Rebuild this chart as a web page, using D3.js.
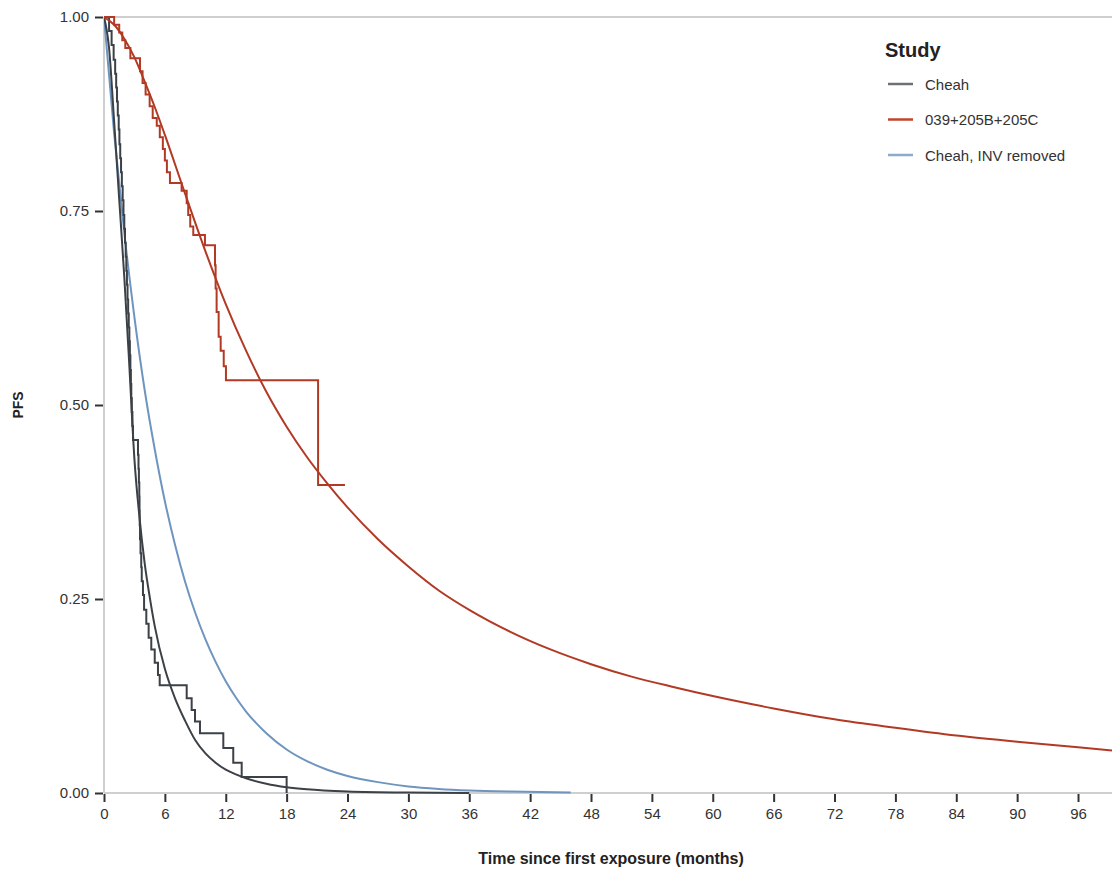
<!DOCTYPE html>
<html>
<head>
<meta charset="utf-8">
<script src="https://cdn.jsdelivr.net/npm/d3@7"></script>
<style>
  body { margin: 0; background: #fff; }
  svg { display: block; font-family: "Liberation Sans", Arial, sans-serif; }
</style>
</head>
<body>
<svg id="chart" width="1112" height="870"></svg>
<script>
// ---------- data ----------
const xTicks = [0, 6, 12, 18, 24, 30, 36, 42, 48, 54, 60, 66, 72, 78, 84, 90, 96];
const yTicks = [0, 0.25, 0.5, 0.75, 1];
const seriesNames = ["Cheah", "039+205B+205C", "Cheah, INV removed"];

// fitted (smooth) curves: time (months) and PFS
const redFitTime = [0, 1, 2, 3, 4, 5, 6, 8, 10, 12, 14, 16, 18, 20, 22, 24, 27, 30, 33, 36, 40, 44, 48, 52, 56, 60, 66, 72, 78, 84, 90, 96, 100];
const redFitPFS  = [1, 0.99, 0.972, 0.948, 0.917, 0.884, 0.848, 0.772, 0.698, 0.63, 0.57, 0.517, 0.472, 0.433, 0.399, 0.368, 0.327, 0.292, 0.261, 0.236, 0.208, 0.185, 0.166, 0.15, 0.137, 0.125, 0.109, 0.095, 0.084, 0.074, 0.066, 0.059, 0.054];

const blackFitTime = [0, 0.5, 1, 1.5, 2, 2.5, 3, 3.5, 4, 4.5, 5, 6, 7, 8, 9, 10, 11, 12, 13, 14, 16, 18, 20, 24, 30, 36];
const blackFitPFS  = [1, 0.96, 0.865, 0.765, 0.665, 0.55, 0.43, 0.355, 0.297, 0.253, 0.215, 0.16, 0.122, 0.093, 0.068, 0.051, 0.039, 0.03, 0.024, 0.019, 0.012, 0.0075, 0.0047, 0.0019, 0.0005, 0.0001];

const blueFitTime = [0, 1, 2, 3, 4, 5, 6, 7, 8, 9, 10, 11, 12, 13, 14, 15, 16, 18, 20, 22, 24, 27, 30, 33, 36, 40, 46];
const blueFitPFS  = [1, 0.85, 0.722, 0.613, 0.52, 0.443, 0.376, 0.32, 0.272, 0.232, 0.198, 0.169, 0.144, 0.123, 0.105, 0.09, 0.077, 0.056, 0.041, 0.03, 0.022, 0.014, 0.0085, 0.0053, 0.0033, 0.0018, 0.0007];

// Kaplan-Meier step curves
const redKMTime = [0, 1.0, 1.5, 1.8, 2.1, 2.6, 3.55, 3.8, 4.1, 4.5, 4.8, 5.2, 5.5, 5.8, 6.0, 6.2, 6.5, 7.65, 8.15, 8.3, 8.5, 8.8, 9.95, 10.94, 11.0, 11.1, 11.3, 11.5, 11.8, 12.02, 21.1, 23.75];
const redKMPFS  = [1, 0.99, 0.98, 0.97, 0.96, 0.947, 0.93, 0.915, 0.9, 0.885, 0.87, 0.86, 0.845, 0.83, 0.815, 0.8, 0.786, 0.776, 0.76, 0.745, 0.73, 0.719, 0.706, 0.68, 0.65, 0.62, 0.588, 0.57, 0.55, 0.532, 0.397, 0.397];

const blackKMTime = [0, 0.5, 0.75, 0.95, 1.1, 1.2, 1.28, 1.36, 1.45, 1.52, 1.6, 1.68, 1.76, 1.84, 1.92, 2.0, 2.07, 2.14, 2.2, 2.26, 2.32, 2.38, 2.44, 2.5, 2.55, 2.6, 2.65, 2.69, 2.74, 2.8, 2.86, 3.35, 3.4, 3.44, 3.48, 3.5, 3.52, 3.55, 3.6, 3.67, 3.72, 3.84, 3.95, 4.17, 4.4, 4.66, 5.0, 5.32, 5.49, 8.15, 8.64, 8.97, 9.46, 11.76, 12.74, 13.57, 18.0];
const blackKMPFS  = [1, 0.982, 0.964, 0.945, 0.927, 0.909, 0.891, 0.873, 0.855, 0.836, 0.818, 0.8, 0.782, 0.764, 0.745, 0.727, 0.709, 0.691, 0.673, 0.655, 0.636, 0.618, 0.6, 0.582, 0.564, 0.545, 0.527, 0.509, 0.491, 0.473, 0.455, 0.436, 0.418, 0.4, 0.382, 0.364, 0.345, 0.327, 0.309, 0.291, 0.273, 0.255, 0.236, 0.218, 0.2, 0.185, 0.168, 0.152, 0.139, 0.122, 0.107, 0.092, 0.077, 0.058, 0.039, 0.0206, 0];

// ---------- drawing ----------
const colBlack = "#3b4147", colRed = "#b23a24", colBlue = "#6f95bf";
const svg = d3.select("#chart");
const x = d3.scaleLinear().domain([0, 100]).range([104, 1118.6]);
const y = d3.scaleLinear().domain([0, 1]).range([793, 17]);

// axis frame lines (grey)
svg.append("line").attr("x1", x(0)).attr("x2", 1112).attr("y1", y(1)).attr("y2", y(1))
  .attr("stroke", "#cfcfcf").attr("stroke-width", 2);
svg.append("line").attr("x1", x(0)).attr("x2", x(0)).attr("y1", y(1)).attr("y2", y(0))
  .attr("stroke", "#cfcfcf").attr("stroke-width", 2);
svg.append("line").attr("x1", x(0)).attr("x2", 1112).attr("y1", y(0)).attr("y2", y(0))
  .attr("stroke", "#cfcfcf").attr("stroke-width", 2);

// y axis
const yAxis = d3.axisLeft(y).tickValues(yTicks).tickFormat(d3.format(".2f")).tickSize(8).tickPadding(6);
const gy = svg.append("g").attr("transform", `translate(${x(0) - 1},0)`).call(yAxis);
gy.select(".domain").remove();
gy.selectAll(".tick line").attr("stroke", "#333").attr("stroke-width", 2);
gy.selectAll(".tick text").attr("fill", "#333").attr("font-size", 15);

// x axis
const xAxis = d3.axisBottom(x).tickValues(xTicks).tickSize(8).tickPadding(6);
const gx = svg.append("g").attr("transform", `translate(0,${y(0) + 1})`).call(xAxis);
gx.select(".domain").remove();
gx.selectAll(".tick line").attr("stroke", "#333").attr("stroke-width", 2);
gx.selectAll(".tick text").attr("fill", "#333").attr("font-size", 15);

// axis titles
svg.append("text").attr("x", 611).attr("y", 864).attr("text-anchor", "middle")
  .attr("font-size", 16).attr("font-weight", "bold").attr("fill", "#222")
  .text("Time since first exposure (months)");
svg.append("text").attr("transform", "translate(23,405) rotate(-90)").attr("text-anchor", "middle")
  .attr("font-size", 14).attr("font-weight", "bold").attr("fill", "#222").text("PFS");

// curves
const smooth = d3.line().x(d => x(d[0])).y(d => y(d[1])).curve(d3.curveMonotoneX);
const step = d3.line().x(d => x(d[0])).y(d => y(d[1])).curve(d3.curveStepAfter);
const zip = (a, b) => a.map((v, i) => [v, b[i]]);
svg.append("clipPath").attr("id", "plotclip").append("rect")
  .attr("x", x(0)).attr("y", 0).attr("width", 1112 - x(0)).attr("height", 800);
const plot = svg.append("g").attr("clip-path", "url(#plotclip)");

plot.append("path").attr("d", smooth(zip(blueFitTime, blueFitPFS)))
  .attr("fill", "none").attr("stroke", colBlue).attr("stroke-width", 2);
plot.append("path").attr("d", smooth(zip(blackFitTime, blackFitPFS)))
  .attr("fill", "none").attr("stroke", colBlack).attr("stroke-width", 2);
plot.append("path").attr("d", step(zip(blackKMTime, blackKMPFS)))
  .attr("fill", "none").attr("stroke", colBlack).attr("stroke-width", 2);
plot.append("path").attr("d", smooth(zip(redFitTime, redFitPFS)))
  .attr("fill", "none").attr("stroke", colRed).attr("stroke-width", 2);
plot.append("path").attr("d", step(zip(redKMTime, redKMPFS)))
  .attr("fill", "none").attr("stroke", colRed).attr("stroke-width", 2);

// legend
const legend = svg.append("g");
legend.append("text").attr("x", 885).attr("y", 57).attr("font-size", 20).attr("font-weight", "bold")
  .attr("fill", "#222").text("Study");
const legCols = ["#6b7177", "#c0452d", "#8eaacb"];
seriesNames.forEach((name, i) => {
  const yy = 84 + i * 35.5;
  legend.append("line").attr("x1", 888).attr("x2", 913).attr("y1", yy).attr("y2", yy)
    .attr("stroke", legCols[i]).attr("stroke-width", 2.5);
  legend.append("text").attr("x", 925).attr("y", yy + 5.5).attr("font-size", 15)
    .attr("fill", "#333").text(name);
});
</script>
</body>
</html>
